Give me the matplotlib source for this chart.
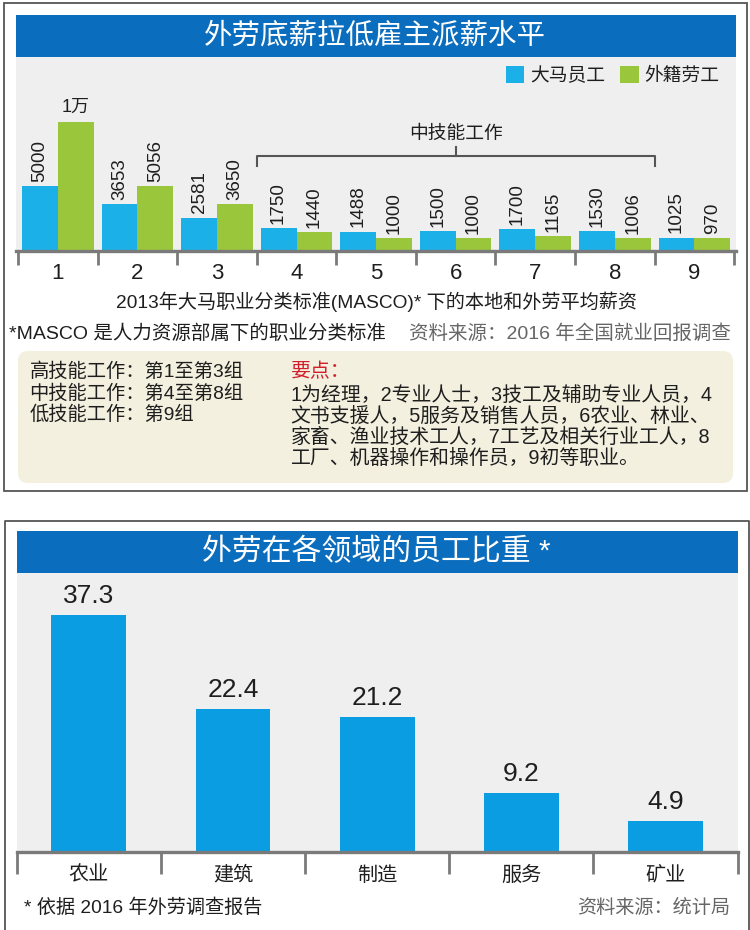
import matplotlib
matplotlib.use("Agg")
import matplotlib.pyplot as plt
from matplotlib.patches import Rectangle, FancyBboxPatch
from matplotlib.lines import Line2D

plt.rcParams['font.family'] = ['Liberation Sans', 'Noto Sans CJK SC']

# ---------------- data ----------------
top_title = "外劳底薪拉低雇主派薪水平"
groups = ['1', '2', '3', '4', '5', '6', '7', '8', '9']
local_wage = [5000, 3653, 2581, 1750, 1488, 1500, 1700, 1530, 1025]
foreign_wage = [10000, 5056, 3650, 1440, 1000, 1000, 1165, 1006, 970]
series_names = ['大马员工', '外籍劳工']
top_xlabel = "2013年大马职业分类标准(MASCO)* 下的本地和外劳平均薪资"
mid_group_label = "中技能工作"
note_left = "*MASCO 是人力资源部属下的职业分类标准"
note_right = "资料来源：2016 年全国就业回报调查"
skill_lines = ["高技能工作：第1至第3组", "中技能工作：第4至第8组", "低技能工作：第9组"]
key_title = "要点："
key_lines = ["1为经理，2专业人士，3技工及辅助专业人员，4",
             "文书支援人，5服务及销售人员，6农业、林业、",
             "家畜、渔业技术工人，7工艺及相关行业工人，8",
             "工厂、机器操作和操作员，9初等职业。"]

bottom_title = "外劳在各领域的员工比重 *"
sectors = ['农业', '建筑', '制造', '服务', '矿业']
sector_share = [37.3, 22.4, 21.2, 9.2, 4.9]
bottom_note = "* 依据 2016 年外劳调查报告"
bottom_source = "资料来源：统计局"

# ---------------- styles ----------------
BANNER = '#0b6dbd'
BLUE = '#1bb0e8'
GREEN = '#9ac63c'
BLUE2 = '#0b9de2'
GRAY_BG = '#efefef'
BEIGE = '#f3f0df'
AXIS_GRAY = '#7a7a7a'
TXT = '#1e1e1e'

W, H = 750, 930
fig = plt.figure(figsize=(7.5, 9.3), dpi=100)

def px_axes(x0, y0, x1, y1, **kw):
    return fig.add_axes([x0 / W, 1 - y1 / H, (x1 - x0) / W, (y1 - y0) / H], **kw)

# background layer in pixel coordinates
bg = px_axes(0, 0, W, H)
bg.set_xlim(0, W)
bg.set_ylim(H, 0)
bg.axis('off')
bg.set_zorder(0)

# top panel frame
bg.add_patch(Rectangle((3.5, 3.3), 743.5, 487.7, fill=False, ec='#555555', lw=1.3))
bg.add_patch(Rectangle((15.8, 15), 720.2, 41.7, fc=BANNER, ec='none'))
bg.add_patch(Rectangle((15.8, 56.7), 720.2, 194, fc=GRAY_BG, ec='none'))
bg.add_patch(FancyBboxPatch((18, 351), 715, 132, boxstyle="round,pad=0,rounding_size=10",
                            fc=BEIGE, ec='none'))

# bottom panel frame (open at bottom)
bg.add_line(Line2D([4.8, 4.8, 748.5, 748.5], [935, 520.7, 520.7, 935], color='#555555', lw=1.3))
bg.add_patch(Rectangle((16.8, 530.7), 720.7, 42, fc=BANNER, ec='none'))

# ---------------- top chart ----------------
ax = px_axes(15.8, 56.7, 736, 250.7)
ax.set_zorder(1)
ax.patch.set_alpha(0)
x = list(range(len(groups)))
bw = 0.45
b1 = ax.bar([i - bw / 2 for i in x], local_wage, width=bw, color=BLUE, label=series_names[0])
b2 = ax.bar([i + bw / 2 for i in x], foreign_wage, width=bw, color=GREEN, label=series_names[1])
ax.set_xlim(-0.528, 8.523)
ax.set_ylim(0, 15109)

def wage_fmt(v):
    return '1万' if v >= 10000 else str(v)

ax.bar_label(b1, labels=[wage_fmt(v) for v in local_wage], rotation=90, padding=3,
             fontsize=13.5, color=TXT)
anns = ax.bar_label(b2, labels=[wage_fmt(v) for v in foreign_wage], rotation=90, padding=3,
                    fontsize=13.5, color=TXT)
for v, a in zip(foreign_wage, anns):
    if v >= 10000:
        a.set_rotation(0)
        a.set_fontsize(13)
        a.xyann = (0, 5)

for s in ['top', 'left', 'right']:
    ax.spines[s].set_visible(False)
ax.spines['bottom'].set_color(AXIS_GRAY)
ax.spines['bottom'].set_linewidth(2.4)
ax.set_yticks([])
ax.set_xticks(x)
ax.set_xticklabels(groups, fontsize=16, color=TXT)
ax.tick_params(axis='x', which='major', length=0, pad=9)
ax.set_xticks([i - 0.5 for i in x] + [x[-1] + 0.5], minor=True)
ax.tick_params(axis='x', which='minor', length=10, width=2, color=AXIS_GRAY, direction='out')

# bracket over the middle-skill groups (4 to 8)
bx0, bx1 = 2.5, 7.5
ax.plot([bx0, bx0, bx1, bx1], [6620, 7375, 7375, 6620], color='#555555', lw=1.5, clip_on=False)
ax.plot([(bx0 + bx1) / 2] * 2, [7375, 8100], color='#555555', lw=1.5, clip_on=False)
ax.text((bx0 + bx1) / 2, 9050, mid_group_label, ha='center', va='center', fontsize=13.5, color=TXT)

leg = ax.legend(handles=[b1, b2], loc='upper right', bbox_to_anchor=(0.977, 0.95), ncol=2,
                frameon=False, fontsize=13.5, handlelength=1.0, handleheight=1.0,
                handletextpad=0.3, columnspacing=0.8, borderpad=0, borderaxespad=0)
for t in leg.get_texts():
    t.set_color(TXT)

# ---------------- bottom chart ----------------
ax2 = px_axes(16.8, 572.7, 737.5, 851.7)
ax2.set_zorder(1)
ax2.set_facecolor(GRAY_BG)
xs = list(range(len(sectors)))
b3 = ax2.bar(xs, sector_share, width=0.52, color=BLUE2)
ax2.set_xlim(-0.5, 4.5)
ax2.set_ylim(0, 43.9)
ax2.bar_label(b3, fmt='%.1f', padding=5, fontsize=19, color=TXT)
for s in ['top', 'left', 'right']:
    ax2.spines[s].set_visible(False)
ax2.spines['bottom'].set_color(AXIS_GRAY)
ax2.spines['bottom'].set_linewidth(2.4)
ax2.set_yticks([])
ax2.set_xticks(xs)
ax2.set_xticklabels(sectors, fontsize=14.5, color=TXT)
ax2.tick_params(axis='x', which='major', length=0, pad=10)
ax2.set_xticks([i - 0.5 for i in xs] + [xs[-1] + 0.5], minor=True)
ax2.tick_params(axis='x', which='minor', length=16, width=2, color=AXIS_GRAY, direction='out')

# ---------------- overlay texts ----------------
ov = px_axes(0, 0, W, H)
ov.set_xlim(0, W)
ov.set_ylim(H, 0)
ov.axis('off')
ov.set_zorder(2)

ov.text(375, 36, top_title, ha='center', va='center', fontsize=20.5, color='white')
ov.text(376, 302, top_xlabel, ha='center', va='center', fontsize=13.8, color=TXT)
ov.text(9, 334, note_left, ha='left', va='center', fontsize=14, color=TXT)
ov.text(731, 334, note_right, ha='right', va='center', fontsize=14, color='#666666')

for i, s in enumerate(skill_lines):
    ov.text(29.5, 372 + i * 21.4, s, ha='left', va='center', fontsize=13.9, color=TXT)
ov.text(290.5, 372, key_title, ha='left', va='center', fontsize=14.3, color='#d21f2b')
for i, s in enumerate(key_lines):
    ov.text(290.5, 395 + i * 21.2, s, ha='left', va='center', fontsize=14.3, color=TXT)

ov.text(376, 552, bottom_title, ha='center', va='center', fontsize=21.5, color='white')
ov.text(24, 908, bottom_note, ha='left', va='center', fontsize=13.8, color=TXT)
ov.text(730, 908, bottom_source, ha='right', va='center', fontsize=13.8, color='#666666')

fig.savefig('out.png', dpi=100)
